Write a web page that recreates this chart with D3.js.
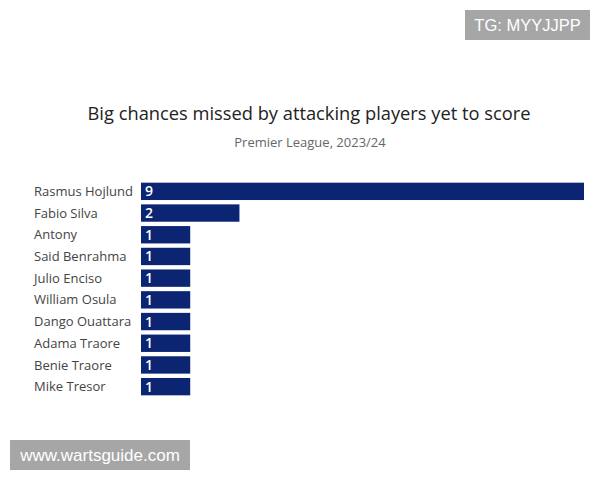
<!DOCTYPE html>
<html><head><meta charset="utf-8">
<script src="https://cdn.jsdelivr.net/npm/d3@7"></script>
<style>body{margin:0;background:#fff;}svg{display:block;font-family:"Open Sans","Noto Sans",sans-serif;}</style>
</head><body>
<svg id="c" width="600" height="480"></svg>
<script>
const players = ["Rasmus Hojlund","Fabio Silva","Antony","Said Benrahma","Julio Enciso","William Osula","Dango Ouattara","Adama Traore","Benie Traore","Mike Tresor"];
const bigChancesMissed = [9,2,1,1,1,1,1,1,1,1];
const title = "Big chances missed by attacking players yet to score";
const subtitle = "Premier League, 2023/24";

const svg = d3.select("#c");
const x = d3.scaleLinear().domain([0,9]).range([141,584]);
const y = d3.scaleBand().domain(players).range([180.5,397.5]).paddingInner(0.2).paddingOuter(0.1);

svg.append("text").attr("x",309).attr("y",120).attr("text-anchor","middle")
  .attr("font-size",18.3).attr("font-weight",500).attr("fill","#222").text(title);
svg.append("text").attr("x",310).attr("y",147).attr("text-anchor","middle")
  .attr("font-size",13).attr("fill","#666").text(subtitle);

const g = svg.append("g");
g.selectAll("rect.bar").data(players).join("rect").attr("class","bar")
  .attr("x",x(0)).attr("y",d=>y(d)).attr("height",y.bandwidth())
  .attr("width",(d,i)=>x(bigChancesMissed[i])-x(0)).attr("fill","#0b2573");
g.selectAll("text.lab").data(players).join("text").attr("class","lab")
  .attr("x",34).attr("y",d=>y(d)+y.bandwidth()/2).attr("dy","0.35em")
  .attr("font-size",13).attr("fill","#444").text(d=>d);
g.selectAll("text.val").data(players).join("text").attr("class","val")
  .attr("x",x(0)+4).attr("y",d=>y(d)+y.bandwidth()/2).attr("dy","0.36em")
  .attr("font-size",14).attr("font-weight","600").attr("fill","#fff").text((d,i)=>bigChancesMissed[i]);

svg.append("rect").attr("x",465).attr("y",10).attr("width",125).attr("height",30).attr("fill","#a6a6a6");
svg.append("text").attr("x",527.5).attr("y",25).attr("dy","0.35em").attr("text-anchor","middle")
  .attr("font-family","Liberation Sans, Arial, sans-serif").attr("font-size",16.5).attr("fill","#fff").text("TG: MYYJJPP");
svg.append("rect").attr("x",10).attr("y",440).attr("width",180).attr("height",30).attr("fill","#a6a6a6");
svg.append("text").attr("x",100).attr("y",455).attr("dy","0.35em").attr("text-anchor","middle")
  .attr("font-family","Liberation Sans, Arial, sans-serif").attr("font-size",17).attr("fill","#fff").text("www.wartsguide.com");
</script>
</body></html>
